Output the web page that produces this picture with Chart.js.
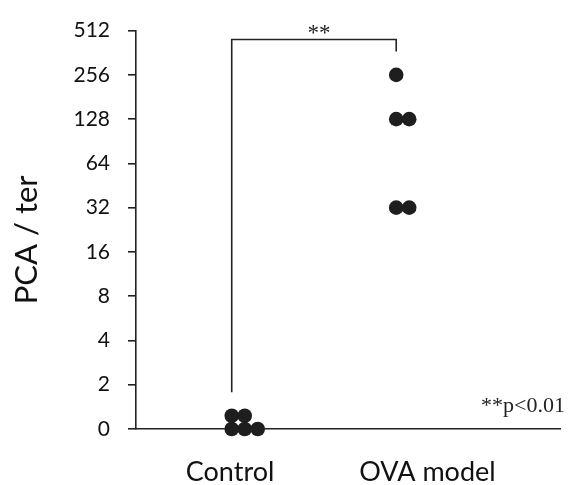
<!DOCTYPE html>
<html><head><meta charset="utf-8">
<script src="https://cdn.jsdelivr.net/npm/chart.js@4.4.1/dist/chart.umd.min.js"></script>
<style>html,body{margin:0;padding:0;background:#fff}#wrap{width:568px;height:485px}</style>
</head><body><div id="wrap"><canvas id="c" width="568" height="485"></canvas></div>
<script>
// ---- data ----
const groups = ['Control', 'OVA model'];
const controlTiters = [0, 0, 0, 0, 0];
const ovaTiters = [256, 128, 128, 32, 32];
const yTickLabels = ['0', '2', '4', '8', '16', '32', '64', '128', '256', '512'];
const yTitle = 'PCA / ter';
const sigLabel = '**';
const pNote = '**p<0.01';

// ---- layout helpers ----
const DOT_STEP_X = 0.079, DOT_STEP_Y = 0.3, PER_ROW = 3;
function level(t) { return t > 0 ? Math.log2(t) : 0; }
function swarm(titers, gi) {
  const counts = {};
  return titers.map(t => {
    const lv = level(t);
    const k = counts[lv] || 0;
    counts[lv] = k + 1;
    return { x: gi + 1 + (k % PER_ROW) * DOT_STEP_X, y: lv + Math.floor(k / PER_ROW) * DOT_STEP_Y };
  });
}
const labelShift = [-0.01, 0.19];

const annot = {
  id: 'annot',
  afterDatasetsDraw(chart) {
    const { ctx, scales: { x, y } } = chart;
    ctx.save();
    ctx.strokeStyle = '#222';
    ctx.lineWidth = 1.6;
    const xl = x.getPixelForValue(1), xr = x.getPixelForValue(2);
    const yt = y.getPixelForValue(8.8);
    ctx.beginPath();
    ctx.moveTo(xl, y.getPixelForValue(0.83));
    ctx.lineTo(xl, yt);
    ctx.lineTo(xr, yt);
    ctx.lineTo(xr, y.getPixelForValue(8.53));
    ctx.stroke();
    ctx.fillStyle = '#222';
    ctx.font = '23px "Liberation Serif"';
    ctx.textAlign = 'center';
    ctx.textBaseline = 'alphabetic';
    ctx.fillText(sigLabel, x.getPixelForValue(1.53), y.getPixelForValue(8.8) + 1);
    ctx.font = '22px "Liberation Serif"';
    ctx.textAlign = 'right';
    ctx.fillText(pNote, chart.width - 3, y.getPixelForValue(0.38));
    // y title
    ctx.font = '31px Lato';
    ctx.fillStyle = '#111';
    ctx.textAlign = 'center';
    ctx.textBaseline = 'alphabetic';
    ctx.translate(37, (y.top + y.bottom) / 2 + 10);
    ctx.rotate(-Math.PI / 2);
    ctx.fillText(yTitle, 0, 0);
    ctx.restore();
  }
};

new Chart(document.getElementById('c'), {
  type: 'scatter',
  data: {
    datasets: [
      { label: groups[0], data: swarm(controlTiters, 0) },
      { label: groups[1], data: swarm(ovaTiters, 1) }
    ].map(d => Object.assign(d, {
      backgroundColor: '#1e1e1e', borderColor: '#1e1e1e', pointRadius: 7.3,
      pointHoverRadius: 7.3, borderWidth: 0, clip: false
    }))
  },
  options: {
    responsive: false, animation: false, devicePixelRatio: 1,
    layout: { padding: { top: 28, right: 6, left: 0, bottom: 0 } },
    plugins: { legend: { display: false }, tooltip: { enabled: false } },
    scales: {
      x: {
        type: 'linear', min: 0.418, max: 3.0,
        afterBuildTicks(s) { s.ticks = groups.map((g, i) => ({ value: i + 1 + labelShift[i] })); },
        afterFit(s) { s.height = 56; },
        grid: { display: false },
        border: { display: true, color: '#222', width: 1.6 },
        ticks: {
          autoSkip: false, maxRotation: 0, padding: 19, color: '#111',
          font: { family: 'Lato', size: 27 },
          callback: (v, i) => groups[i]
        }
      },
      y: {
        type: 'linear', min: 0, max: 9,
        afterBuildTicks(s) { s.ticks = yTickLabels.map((l, i) => ({ value: i })); },
        afterFit(s) { s.width = 136; },
        grid: { drawOnChartArea: false, drawTicks: true, tickLength: 8, color: '#222', lineWidth: 1.6 },
        border: { display: true, color: '#222', width: 1.6 },
        ticks: {
          autoSkip: false, padding: 18, color: '#111',
          font: { family: 'Lato', size: 21 },
          callback: (v, i) => yTickLabels[i]
        }
      }
    }
  },
  plugins: [annot]
});
</script></body></html>
